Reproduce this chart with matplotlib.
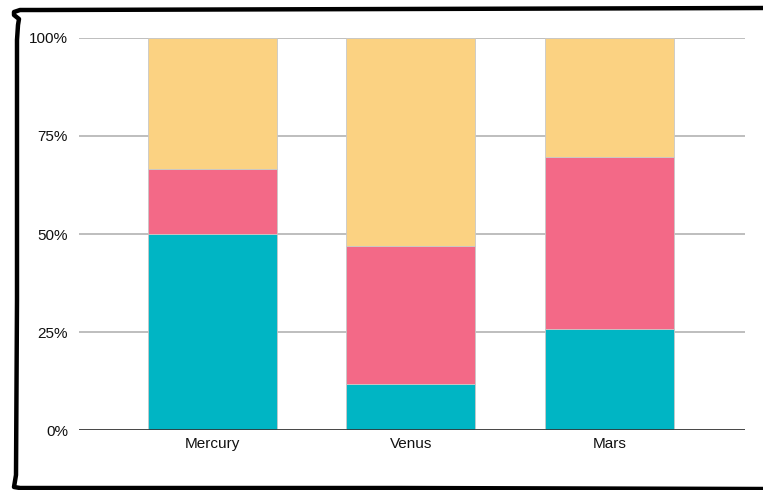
import numpy as np
import matplotlib.pyplot as plt
from matplotlib.lines import Line2D
from matplotlib.ticker import FuncFormatter

plt.rcParams["font.family"] = ["Liberation Sans", "DejaVu Sans"]

# data (percent of each bar)
planets = ["Mercury", "Venus", "Mars"]
teal_vals = [50.0, 11.7, 25.8]
pink_vals = [16.7, 35.2, 43.9]
yellow_vals = [33.3, 53.1, 30.3]
y_ticks = [0, 25, 50, 75, 100]

colors = ["#00B5C4", "#F36987", "#FBD282"]

fig = plt.figure(figsize=(7.63, 4.90), dpi=100)
W, H = 763, 490
ax = fig.add_axes([79 / W, 1 - 430 / H, (745 - 79) / W, (430 - 38) / H])

x = np.arange(len(planets))
bottom = np.zeros(len(planets))
for vals, c in zip([teal_vals, pink_vals, yellow_vals], colors):
    ax.bar(x, vals, 0.65, bottom=bottom, color=c, edgecolor="#c8c8c8",
           linewidth=0.6, zorder=3)
    bottom += np.array(vals)

ax.set_xlim(-0.672, 2.683)
ax.set_ylim(0, 100)
ax.set_yticks(y_ticks)
ax.yaxis.set_major_formatter(FuncFormatter(lambda v, p: f"{int(v)}%"))
ax.set_xticks(x)
ax.set_xticklabels(planets)
ax.grid(axis="y", color="#b3b3b3", linewidth=1.2, zorder=0)
ax.axhline(0, color="#333333", linewidth=1.2, zorder=4)
for s in ax.spines.values():
    s.set_visible(False)
ax.tick_params(axis="both", length=0, labelsize=11, colors="#111111")
ax.tick_params(axis="y", pad=8)
ax.tick_params(axis="x", pad=5)

# hand-drawn frame
px = [763, 400, 40, 20, 14, 14, 19, 18, 17, 17, 16, 15, 14, 20, 400, 763]
py = [8, 9, 10, 10, 12, 15, 19, 25, 40, 300, 475, 481, 487, 488, 488, 489]
fig.add_artist(Line2D([v / W for v in px], [1 - v / H for v in py],
                      color="black", linewidth=3.2, solid_capstyle="round",
                      solid_joinstyle="round", transform=fig.transFigure))

fig.savefig("out.png", dpi=100)
